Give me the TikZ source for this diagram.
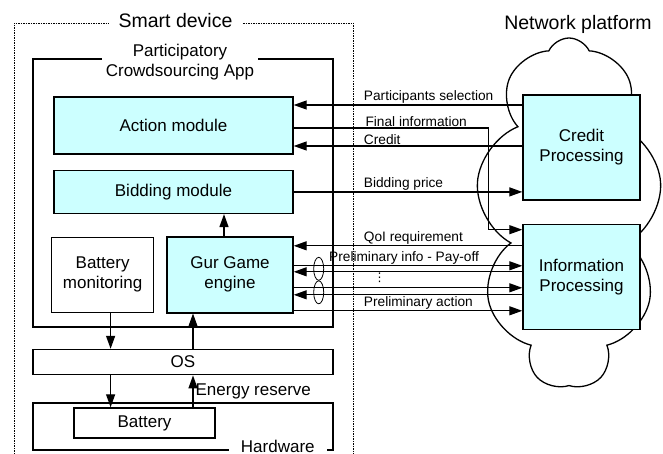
\documentclass[tikz,border=0pt]{standalone}
\usepackage{fontspec}
\setmainfont{Liberation Sans}
\newfontfamily\symfont{DejaVu Sans}
\usetikzlibrary{arrows.meta,positioning,shapes.geometric,shapes.symbols}
\definecolor{moduleCyan}{HTML}{CCFFFF}
\tikzset{%
  >={Triangle[width=9pt,length=13pt]},
  % Specifications for style of nodes:
        base/.style = {rectangle, draw=black, line width=1.4pt, inner sep=0pt,
                       align=center, font=\fontsize{17}{20}\selectfont},
   moduleBox/.style = {base, fill=moduleCyan},
    plainBox/.style = {base, fill=white},
    frameBox/.style = {base, line width=1.6pt},
  frameTitle/.style = {fill=white, inner xsep=4pt, inner ysep=1pt, align=center,
                       font=\fontsize{17}{20}\selectfont},
   flowLabel/.style = {above right, inner sep=1pt, pos=0.3,
                       font=\fontsize{13.7}{16}\selectfont},
}

\begin{document}
\begin{tikzpicture}[x=1pt, y=-1pt, line width=1.3pt]
  \useasboundingbox (0,0) rectangle (663,454);
  % Network platform cloud, drawn first so that boxes and lines lie on top
  \node (platform) [cloud, draw, line width=1.3pt, cloud puffs=9, cloud puff arc=130,
                    aspect=0.54, minimum width=186pt, minimum height=350pt] at (569,213) {};
  \node (platformTitle) [font=\fontsize{19.5}{22}\selectfont] at (578,24) {Network platform};

  % Smart device frame (dotted, open at the bottom)
  \draw[line width=0.8pt, dash pattern=on 1.5pt off 1pt] (14,454) |- (353,23) -- (353,454);
  \node (deviceTitle) [frameTitle, inner xsep=10pt, font=\fontsize{19.5}{22}\selectfont] at (175.5,21) {Smart device};

  % App frame and its modules
  \node (app)      [frameBox, minimum width=300pt, minimum height=268pt] at (183,193) {};
  \node (appTitle) [frameTitle] at (180,62) {Participatory\\Crowdsourcing App};
  \node (action)   [moduleBox, minimum width=239pt, minimum height=57pt] at (173.5,125.5) {Action module};
  \node (bidding)  [moduleBox, below=15pt of action, minimum width=239pt, minimum height=43pt] {Bidding module};
  \node (gur)      [moduleBox, below=22pt of bidding.south east, anchor=north east,
                    minimum width=126pt, minimum height=76pt] {Gur Game\\engine};
  \node (batmon)   [plainBox, left=12pt of gur, minimum width=102pt, minimum height=75pt] {Battery\\monitoring};

  % OS and hardware layers
  \node (os)       [frameBox, below=21pt of app, minimum width=300pt, minimum height=25pt] {OS};
  \node (hardware) [frameBox, below=27pt of os, minimum width=300pt, minimum height=47pt] {};
  \node (hwTitle)  [frameTitle, inner xsep=12pt, inner ysep=0pt] at ([xshift=-56pt,yshift=5pt]hardware.south east) {Hardware};
  \node (battery)  [plainBox, minimum width=141pt, minimum height=30pt] at (144.5,423) {Battery};

  % Processing blocks of the network platform
  \node (credit)   [moduleBox, minimum width=117pt, minimum height=105pt] at (581.5,147.5) {Credit\\Processing};
  \node (info)     [moduleBox, below=23pt of credit, minimum width=117pt, minimum height=105pt] {Information\\Processing};

  % Lines inside the device
  \coordinate (gurTop) at ([xshift=-6pt]gur.north);
  \draw[->] (gurTop) -- (gurTop |- bidding.south);
  \coordinate (monFoot) at ([xshift=8pt]batmon.south);
  \draw[->] (monFoot) -- (monFoot |- os.north);
  \coordinate (gurFoot) at ([xshift=-37pt]gur.south);
  \draw[->] (gurFoot |- os.north) -- (gurFoot);
  \draw[->] (monFoot |- os.south) -- (monFoot |- battery.north);
  \draw[->] (gurFoot |- battery.north) -- node[right, inner sep=2pt, font=\fontsize{17}{20}\selectfont]{Energy reserve} (gurFoot |- os.south);

  % Lines between the app modules and credit processing
  \coordinate (selIn) at ([yshift=20.5pt]action.east);
  \draw[<-] (selIn) -- node[flowLabel]{Participants selection} (selIn -| credit.west);
  \draw[->] ([yshift=-2.5pt]action.east) -- node[flowLabel, pos=0.36]{Final information} ++(195,0)
            |- ([yshift=-6pt]info.north west);
  \coordinate (creditIn) at ([yshift=-20.5pt]action.east);
  \draw[<-] (creditIn) -- node[flowLabel]{Credit} (creditIn -| credit.west);
  \draw[->] (bidding.east) -- node[flowLabel]{Bidding price} (bidding.east -| credit.west);

  % Lines between the Gur Game engine and information processing
  \coordinate (qoiIn) at ([yshift=29pt]gur.east);
  \draw[<-] (qoiIn) -- node[flowLabel]{QoI requirement} (qoiIn -| info.west);
  \coordinate (infoOutA) at ([yshift=9pt]gur.east);
  \draw[->] (infoOutA) -- node[flowLabel, pos=0.148]{Preliminary info - Pay-off} (infoOutA -| info.west);
  \coordinate (payInA) at ([yshift=3pt]gur.east);
  \draw[<-] (payInA) -- (payInA -| info.west);
  \coordinate (infoOutB) at ([yshift=-13pt]gur.east);
  \draw[->] (infoOutB) -- (infoOutB -| info.west);
  \coordinate (payInB) at ([yshift=-20pt]gur.east);
  \draw[<-] (payInB) -- (payInB -| info.west);
  \coordinate (actOut) at ([yshift=-36pt]gur.east);
  \draw[->] (actOut) -- node[flowLabel]{Preliminary action} (actOut -| info.west);

  % Pairing marks and the dots between the pairs
  \node (pairA) [ellipse, draw, line width=0.8pt, inner sep=0pt, minimum width=10pt, minimum height=23pt]
        at ([xshift=25pt,yshift=6pt]gur.east) {};
  \node (pairB) [ellipse, draw, line width=0.8pt, inner sep=0pt, minimum width=10pt, minimum height=23pt]
        at ([xshift=25pt,yshift=-17.5pt]gur.east) {};
  \node (moreDots) [inner sep=0pt, font=\symfont\fontsize{12}{14}\selectfont] at ([xshift=86pt,yshift=-3pt]gur.east) {⋮};
\end{tikzpicture}
\end{document}
